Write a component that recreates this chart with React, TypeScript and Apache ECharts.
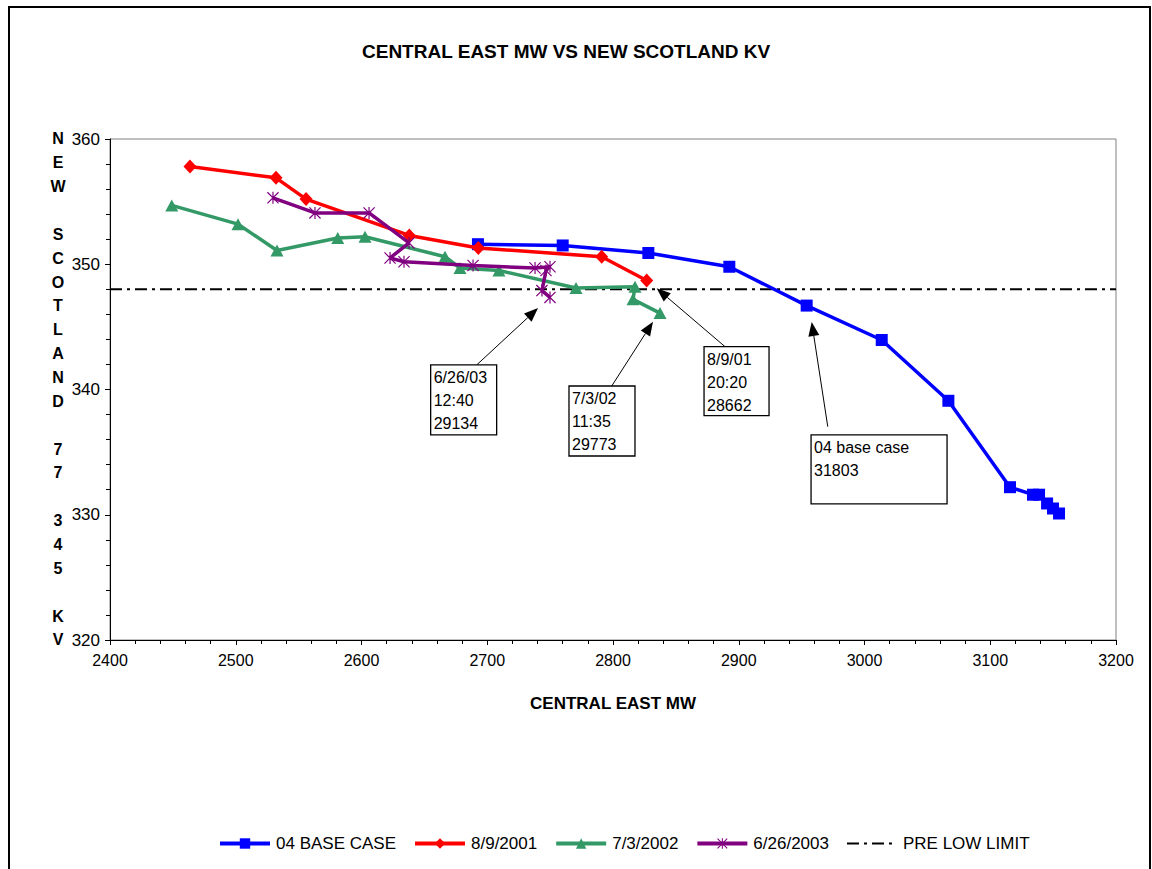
import React, { useEffect, useRef } from "react";
import * as echarts from "echarts";

// ---- data ----
const seriesNames = ["04 BASE CASE", "8/9/2001", "7/3/2002", "6/26/2003", "PRE LOW LIMIT"];

const baseCaseMW = [2692.6, 2760.0, 2828.1, 2892.5, 2954.0, 3013.7, 3066.7, 3115.7, 3134.0, 3138.8, 3145.2, 3149.9, 3154.7];
const baseCaseKV = [351.6, 351.5, 350.9, 349.8, 346.7, 343.95, 339.1, 332.2, 331.6, 331.6, 330.9, 330.5, 330.1];

const aug2001MW = [2463.6, 2532.0, 2555.9, 2638.0, 2692.9, 2791.0, 2826.8];
const aug2001KV = [357.8, 356.9, 355.2, 352.3, 351.3, 350.6, 348.7];

const jul2002MW = [2449.1, 2501.8, 2532.8, 2581.1, 2602.8, 2666.4, 2678.3, 2709.3, 2770.6, 2817.5, 2815.9, 2837.4];
const jul2002KV = [354.7, 353.2, 351.1, 352.1, 352.2, 350.6, 349.7, 349.5, 348.1, 348.2, 347.2, 346.1];

const jun2003MW = [2529.6, 2563.0, 2606.0, 2637.8, 2622.7, 2633.8, 2688.7, 2738.0, 2749.9, 2746.7, 2743.5, 2749.9];
const jun2003KV = [355.3, 354.1, 354.1, 351.7, 350.5, 350.2, 349.9, 349.7, 349.8, 349.5, 347.9, 347.35];

const preLowLimitKV = 348;
const mwRange = [2400, 3200];
const kvRange = [320, 360];

const calloutTexts = [
  ["6/26/03", "12:40", "29134"],
  ["7/3/02", "11:35", "29773"],
  ["8/9/01", "20:20", "28662"],
  ["04 base case", "31803"],
];

// ---- callout layout (in axis units, box size in px) ----
const calloutLayout = [
  { box: [2655.0, 341.96], w: 66, h: 70, tail: [2691.6, 341.96], tip: [2740.4, 346.5] },
  { box: [2765.0, 340.28], w: 66, h: 70, tail: [2799.0, 340.28], tip: [2831.8, 345.41] },
  { box: [2872.4, 343.42], w: 65, h: 69, tail: [2889.1, 343.42], tip: [2834.7, 348.08] },
  { box: [2957.5, 336.37], w: 136, h: 69, tail: [2970.8, 337.03], tip: [2958.0, 345.39] },
];

const yAxisTitle = "NEW SCOTLAND 77 345 KV";

const FONT = "'Liberation Sans', Arial, Helvetica, sans-serif";
const ASTERISK =
  "path://M9 0L11 0L11 20L9 20ZM1.4 0L20 18.6L18.6 20L0 1.4ZM18.6 0L20 1.4L1.4 20L0 18.6Z";

const zip = (xs: number[], ys: number[]) => xs.map((x, i) => [x, ys[i]]);

export default function App() {
  const ref = useRef<HTMLDivElement>(null);

  useEffect(() => {
    if (!ref.current) return;
    const chart = echarts.init(ref.current, undefined, { renderer: "svg" });

    const lineSeries = (
      name: string,
      data: number[][],
      color: string,
      symbol: string,
      symbolSize: number | number[],
      z: number
    ) => ({
      name,
      type: "line",
      data,
      z,
      color,
      symbol,
      symbolSize,
      showSymbol: true,
      lineStyle: { color, width: 3.5 },
      itemStyle: { color },
      emphasis: { disabled: true },
    });

    const legendData = seriesNames.map((name) =>
      name === "PRE LOW LIMIT"
        ? { name, itemStyle: { opacity: 0 }, lineStyle: { width: 2 } }
        : { name, lineStyle: { width: 4 } }
    );

    const option: any = {
      animation: false,
      backgroundColor: "transparent",
      textStyle: { fontFamily: FONT },
      title: {
        text: "CENTRAL EAST MW VS NEW SCOTLAND KV",
        left: 362,
        top: 42,
        padding: 0,
        textStyle: { fontFamily: FONT, fontSize: 19, fontWeight: "bold", color: "#000" },
      },
      grid: {
        left: 110,
        top: 139,
        right: 36,
        bottom: 229,
        show: true,
        borderColor: "#808080",
        borderWidth: 1,
      },
      legend: {
        left: 213,
        top: 830,
        itemWidth: 50,
        itemHeight: 13,
        itemGap: 17,
        data: legendData,
        textStyle: { fontFamily: FONT, fontSize: 17, color: "#000", padding: [0, 0, 0, 1] },
      },
      xAxis: {
        type: "value",
        min: mwRange[0],
        max: mwRange[1],
        interval: 100,
        name: "CENTRAL EAST MW",
        nameLocation: "middle",
        nameGap: 55,
        nameTextStyle: { fontFamily: FONT, fontSize: 17, fontWeight: "bold", color: "#000" },
        axisLine: { lineStyle: { color: "#000", width: 1 } },
        axisTick: { length: 5, lineStyle: { color: "#000" } },
        minorTick: { show: true, splitNumber: 5, length: 4, lineStyle: { color: "#000" } },
        splitLine: { show: false },
        axisLabel: {
          fontFamily: FONT,
          fontSize: 16,
          color: "#000",
          margin: 12,
          formatter: (v: number) => String(v),
        },
      },
      yAxis: {
        type: "value",
        min: kvRange[0],
        max: kvRange[1],
        interval: 10,
        axisLine: { show: true, lineStyle: { color: "#000", width: 1 } },
        axisTick: { show: true, length: 5, lineStyle: { color: "#000" } },
        minorTick: { show: true, splitNumber: 5, length: 4, lineStyle: { color: "#000" } },
        splitLine: { show: false },
        axisLabel: {
          fontFamily: FONT,
          fontSize: 17,
          color: "#000",
          margin: 10,
          formatter: (v: number) => String(v),
        },
      },
      series: [
        lineSeries("04 BASE CASE", zip(baseCaseMW, baseCaseKV), "#0000ff", "rect", 12, 3),
        lineSeries("8/9/2001", zip(aug2001MW, aug2001KV), "#ff0000", "diamond", [13, 14], 4),
        lineSeries("7/3/2002", zip(jul2002MW, jul2002KV), "#339966", "triangle", [13, 12], 5),
        lineSeries("6/26/2003", zip(jun2003MW, jun2003KV), "#800080", ASTERISK, 12, 6),
        {
          name: "PRE LOW LIMIT",
          type: "line",
          z: 2,
          data: [
            [mwRange[0], preLowLimitKV],
            [mwRange[1], preLowLimitKV],
          ],
          symbol: "none",
          color: "#000",
          lineStyle: { color: "#000", width: 2, type: [12, 5, 3, 5] },
          emphasis: { disabled: true },
        },
      ],
    };

    chart.setOption(option);

    // Callout boxes with arrows, placed through the grid's own coordinate system
    const toPx = (p: number[]) => chart.convertToPixel({ gridIndex: 0 }, p) as number[];
    const graphics: any[] = [];
    calloutLayout.forEach((c, i) => {
      const [bx, by] = toPx(c.box);
      const [tx, ty] = toPx(c.tail);
      const [hx, hy] = toPx(c.tip);
      const dx = hx - tx;
      const dy = hy - ty;
      const len = Math.sqrt(dx * dx + dy * dy);
      const ux = dx / len;
      const uy = dy / len;
      const headLen = 14;
      const headHalf = 5.5;
      const baseX = hx - ux * headLen;
      const baseY = hy - uy * headLen;
      graphics.push({
        type: "line",
        z: 100,
        shape: { x1: tx, y1: ty, x2: baseX, y2: baseY },
        style: { stroke: "#000", lineWidth: 1 },
      });
      graphics.push({
        type: "polygon",
        z: 100,
        shape: {
          points: [
            [hx, hy],
            [baseX - uy * headHalf, baseY + ux * headHalf],
            [baseX + uy * headHalf, baseY - ux * headHalf],
          ],
        },
        style: { fill: "#000" },
      });
      graphics.push({
        type: "rect",
        z: 100,
        shape: { x: bx, y: by, width: c.w, height: c.h },
        style: { fill: "#fff", stroke: "#000", lineWidth: 1.3 },
      });
      graphics.push({
        type: "text",
        z: 101,
        x: bx + 3,
        y: by + 1,
        style: {
          text: calloutTexts[i].join("\n"),
          fontFamily: FONT,
          fontSize: 16,
          lineHeight: 23,
          fill: "#000",
          verticalAlign: "top",
          align: "left",
        },
      });
    });

    // Vertical stacked y-axis title, one character per line
    graphics.push({
      type: "text",
      z: 100,
      x: 58,
      y: 127,
      style: {
        text: yAxisTitle.split("").join("\n"),
        fontFamily: FONT,
        fontSize: 16,
        fontWeight: "bold",
        lineHeight: 23.86,
        fill: "#000",
        align: "center",
        verticalAlign: "top",
      },
    });

    chart.setOption({ graphic: graphics });

    return () => chart.dispose();
  }, []);

  return (
    <>
      <div
        style={{
          position: "fixed",
          left: 8,
          top: 6,
          width: 1143,
          height: 900,
          border: "2px solid #000",
          boxSizing: "border-box",
          background: "#fff",
        }}
      />
      <div
        ref={ref}
        style={{ position: "fixed", left: 0, top: 0, width: 1152, height: 869 }}
      />
    </>
  );
}
